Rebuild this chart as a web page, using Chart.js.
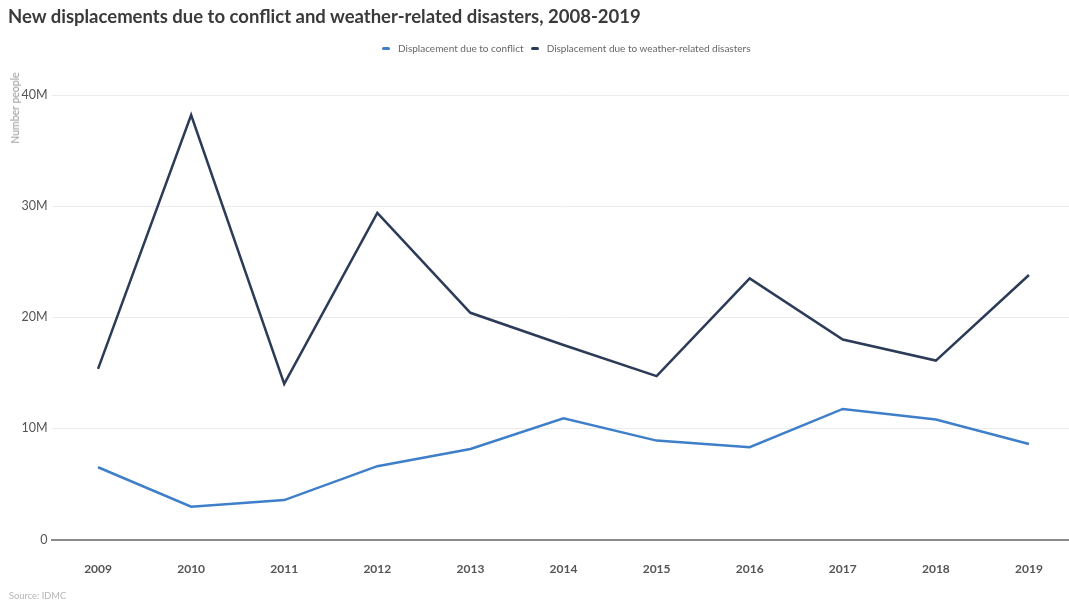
<!DOCTYPE html>
<html>
<head>
<meta charset="utf-8">
<script src="https://cdn.jsdelivr.net/npm/chart.js@4.4.1/dist/chart.umd.min.js"></script>
<style>
    html, body { margin: 0; padding: 0; background: #fff; overflow: hidden; }
    body { width: 1069px; height: 601px; position: relative; font-family: Lato, "Open Sans", sans-serif; }
    #title { position: absolute; left: 8px; top: 5px; font-size: 18.5px; font-weight: 700; color: #3a3a3a; white-space: nowrap; }
    #legend { position: absolute; left: 382px; top: 42px; display: flex; align-items: center; font-size: 10px; color: #666; white-space: nowrap; }
    .legend-item { display: flex; align-items: center; margin-right: 7px; }
    .legend-mark { width: 8px; height: 3px; border-radius: 2px; margin-right: 8px; }
    #yTitle { position: absolute; left: 15px; top: 108px; font-size: 10.5px; color: #999; white-space: nowrap;
              transform: translate(-50%, -50%) rotate(-90deg); }
    #source { position: absolute; left: 9px; top: 590px; font-size: 9.3px; color: #b5b5b5; }
    #chartBox { position: absolute; left: 0; top: 0; width: 1069px; height: 601px; }
</style>
</head>
<body>
<div id="chartBox"><canvas id="displacementChart"></canvas></div>
<div id="title">New displacements due to conflict and weather-related disasters, 2008-2019</div>
<div id="legend"></div>
<div id="yTitle">Number people</div>
<div id="source">Source: IDMC</div>

<script>
// --- data (millions of people) ---
const years = [2009, 2010, 2011, 2012, 2013, 2014, 2015, 2016, 2017, 2018, 2019];
const conflictDisplacement = [6.5, 2.95, 3.55, 6.6, 8.15, 10.9, 8.9, 8.3, 11.75, 10.8, 8.6];
const weatherDisplacement = [15.35, 38.2, 14.0, 29.4, 20.4, 17.5, 14.7, 23.5, 18.0, 16.1, 23.8];
const yTicks = [0, 10, 20, 30, 40];

const seriesNames = ['Displacement due to conflict', 'Displacement due to weather-related disasters'];
const seriesColors = ['#3f7fca', '#2c3b57'];

function toPoints(values) {
    return years.map((year, i) => ({ x: year, y: values[i] }));
}

// --- legend ---
const legendEl = document.getElementById('legend');
seriesNames.forEach((name, i) => {
    const item = document.createElement('div');
    item.className = 'legend-item';
    item.innerHTML = `<span class="legend-mark" style="background:${seriesColors[i]}"></span>${name}`;
    legendEl.appendChild(item);
});

// --- chart ---
const ctx = document.getElementById('displacementChart').getContext('2d');
new Chart(ctx, {
    type: 'line',
    data: {
        datasets: [
            {
                label: seriesNames[0],
                data: toPoints(conflictDisplacement),
                borderColor: seriesColors[0],
                borderWidth: 2.5,
                pointRadius: 0,
                tension: 0
            },
            {
                label: seriesNames[1],
                data: toPoints(weatherDisplacement),
                borderColor: seriesColors[1],
                borderWidth: 2.5,
                pointRadius: 0,
                tension: 0
            }
        ]
    },
    options: {
        responsive: true,
        maintainAspectRatio: false,
        animation: false,
        layout: { padding: { top: 95, right: 0, bottom: 0, left: 0 } },
        plugins: {
            legend: { display: false },
            tooltip: { enabled: false }
        },
        scales: {
            x: {
                type: 'linear',
                min: years[0] - 0.5,
                max: years[years.length - 1] + 0.43,
                afterFit: scale => { scale.height = 61.5; },
                grid: { display: false, drawTicks: false },
                border: { display: true, color: '#8c8c8c', width: 2 },
                ticks: {
                    stepSize: 1,
                    includeBounds: false,
                    autoSkip: false,
                    maxRotation: 0,
                    padding: 22,
                    color: '#555',
                    font: { family: 'Lato', size: 12, weight: 'bold' },
                    callback: v => String(v)
                }
            },
            y: {
                min: yTicks[0],
                max: yTicks[yTicks.length - 1],
                afterFit: scale => { scale.width = 51.5; },
                afterBuildTicks: scale => { scale.ticks = yTicks.map(v => ({ value: v })); },
                grid: { color: '#ebebeb', lineWidth: 1, drawTicks: false },
                border: { display: false },
                ticks: {
                    padding: 4,
                    color: '#555',
                    font: { family: 'Lato', size: 12.5 },
                    callback: v => v === 0 ? '0' : v + 'M'
                }
            }
        }
    }
});
</script>
</body>
</html>
